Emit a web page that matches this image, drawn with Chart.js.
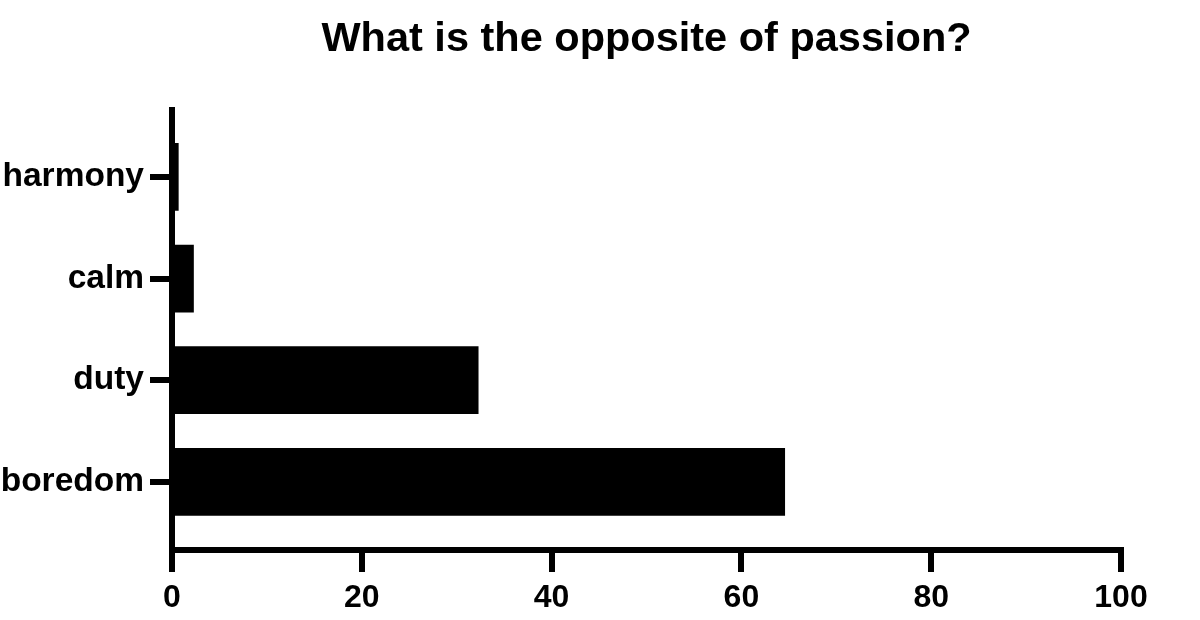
<!DOCTYPE html>
<html>
<head>
<meta charset="utf-8">
<title>What is the opposite of passion?</title>
<script src="https://cdn.jsdelivr.net/npm/chart.js@4.4.1/dist/chart.umd.min.js"></script>
<style>
	html, body { margin: 0; padding: 0; background: #fff; }
	#wrap { width: 1200px; height: 620px; }
</style>
</head>
<body>
<div id="wrap"><canvas id="passionChart" width="1200" height="620"></canvas></div>
<script>
// answers, top to bottom
var categories = [ "harmony", "calm", "duty", "boredom" ];
// share of answers (%)
var shares = [ 0.7, 2.3, 32.3, 64.6 ];
var xTicks = [ 0, 20, 40, 60, 80, 100 ];

var ink = "#000";
var fontFamily = "'Liberation Sans', Arial, Helvetica, sans-serif";

// index axis is linear so the empty space above and below the bars can be kept
var points = [];
for ( var i = 0; i < categories.length; i++ ) {
	points.push( { x: shares[ i ], y: i } );
}

var ctx = document.getElementById( "passionChart" ).getContext( "2d" );

var chart = new Chart( ctx, {
	type: "bar",
	data: {
		datasets: [ {
			data: points,
			backgroundColor: ink,
			borderWidth: 0,
			barPercentage: 0.666,
			categoryPercentage: 1
		} ]
	},
	options: {
		indexAxis: "y",
		responsive: false,
		animation: false,
		layout: {
			padding: { top: 0, right: 79, bottom: 0, left: 0 }
		},
		plugins: {
			legend: { display: false },
			tooltip: { enabled: false },
			title: {
				display: true,
				text: "What is the opposite of passion?",
				color: ink,
				fullSize: false,
				font: { family: fontFamily, size: 41.5, weight: "bold" },
				padding: { top: 15, bottom: 45 }
			}
		},
		scales: {
			x: {
				type: "linear",
				min: 0,
				max: 100,
				afterBuildTicks: function( scale ) {
					scale.ticks = xTicks.map( function( v ) { return { value: v }; } );
				},
				afterFit: function( scale ) {
					scale.height = 70;
				},
				border: { display: true, color: ink, width: 6 },
				grid: {
					drawOnChartArea: false,
					drawTicks: true,
					color: ink,
					lineWidth: 6,
					tickLength: 22
				},
				ticks: {
					color: ink,
					padding: 7,
					maxRotation: 0,
					font: { family: fontFamily, size: 32, weight: "bold" }
				}
			},
			y: {
				type: "linear",
				min: -0.66,
				max: 3.67,
				reverse: true,
				offset: false,
				afterBuildTicks: function( scale ) {
					scale.ticks = categories.map( function( c, idx ) { return { value: idx }; } );
				},
				afterFit: function( scale ) {
					scale.width = 172;
				},
				border: { display: true, color: ink, width: 6 },
				grid: {
					offset: false,
					drawOnChartArea: false,
					drawTicks: true,
					color: ink,
					lineWidth: 6,
					tickLength: 22
				},
				ticks: {
					color: ink,
					padding: 6,
					font: { family: fontFamily, size: 33.5, weight: "bold" },
					callback: function( value ) {
						return categories[ value ];
					}
				}
			}
		}
	}
} );
</script>
</body>
</html>
